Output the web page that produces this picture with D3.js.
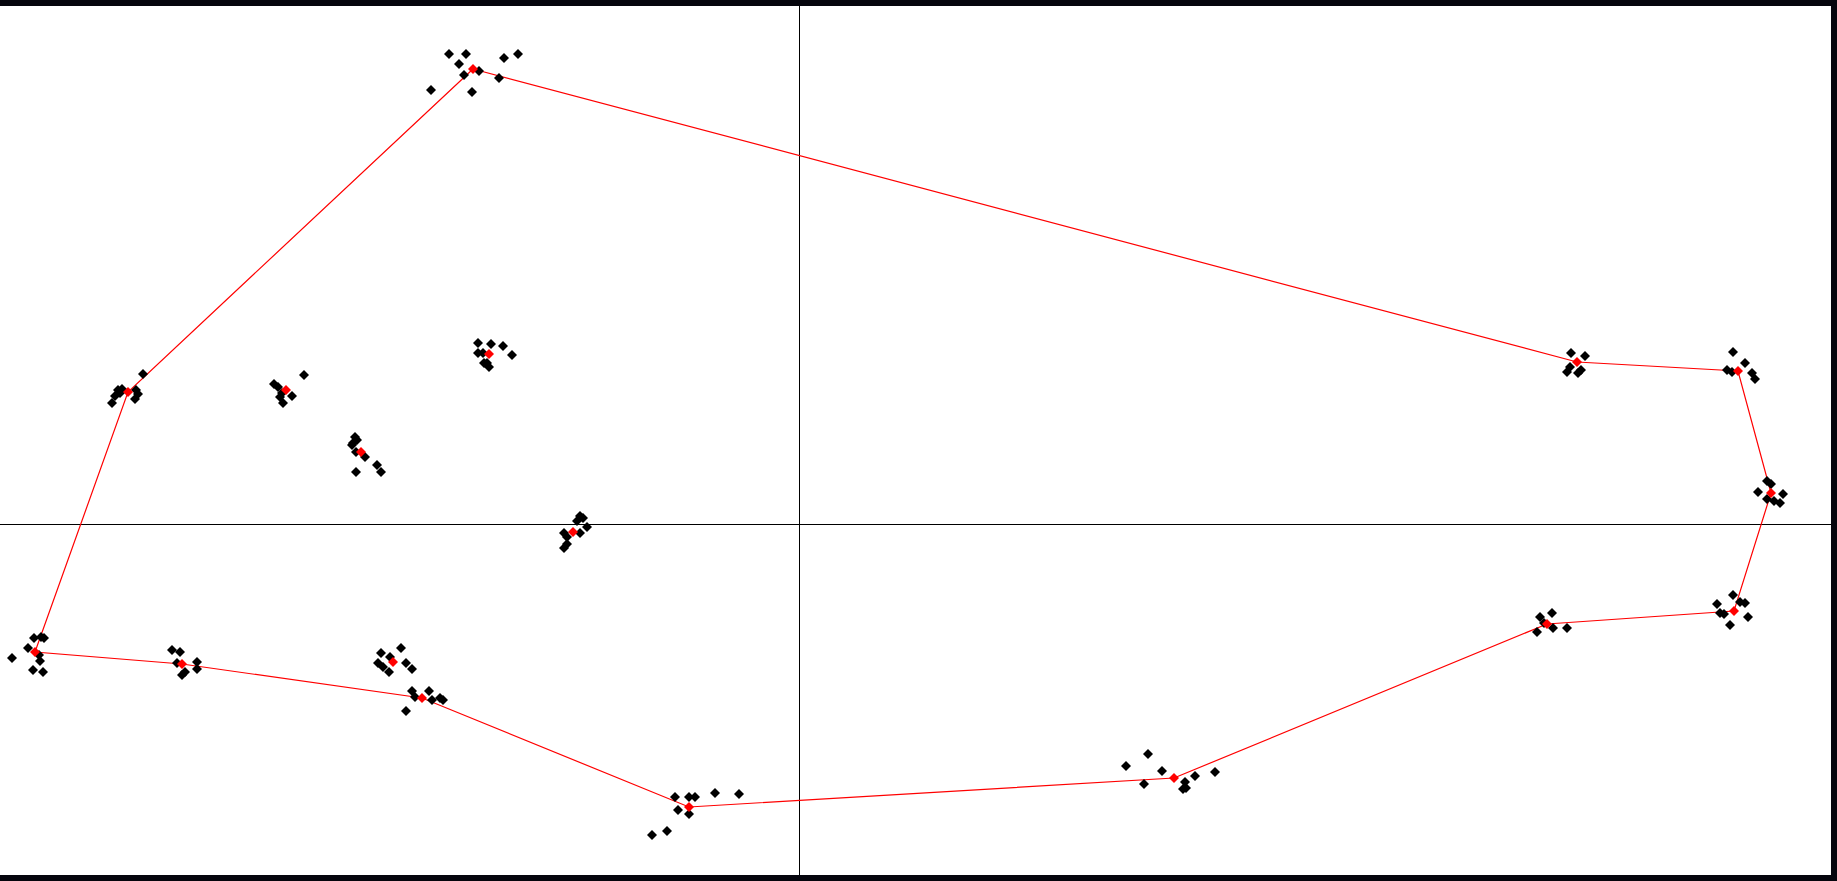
<!DOCTYPE html>
<html>
<head>
<meta charset="utf-8">
<style>
  html, body { margin: 0; padding: 0; background: #ffffff; }
  svg { display: block; }
</style>
<script src="https://cdn.jsdelivr.net/npm/d3@7"></script>
</head>
<body>
<script>
// ---- DATA (score units; axes cross at 0,0) ----
const clusterNames = ["A","B","C","D","E","F","G","H","I","J","K","L","M","N","O","P","Q"];

const centroidX = [-3.26,-6.71,-5.13,-3.10,-4.38,-2.26,-7.64,-6.17,-4.06,-3.77,-1.10, 3.75, 7.48, 9.35, 9.72, 7.78, 9.39];
const centroidY = [ 4.55, 1.32, 1.34, 1.70, 0.72,-0.08,-1.28,-1.40,-1.38,-1.74,-2.83,-2.54,-1.00,-0.87, 0.31, 1.62, 1.53];

const pointsA = [[-3.50,4.70],[-3.33,4.70],[-2.95,4.66],[-2.81,4.70],[-3.40,4.60],[-3.20,4.53],[-3.35,4.49],[-3.00,4.46],[-3.68,4.34],[-3.27,4.32]];
const pointsB = [[-6.81,1.34],[-6.77,1.35],[-6.84,1.28],[-6.87,1.21],[-6.63,1.34],[-6.61,1.30],[-6.64,1.25],[-6.56,1.50],[-6.79,1.31]];
const pointsC = [[-5.25,1.40],[-5.21,1.37],[-5.17,1.31],[-5.07,1.28],[-5.16,1.21],[-4.95,1.49],[-5.19,1.27]];
const pointsD = [[-3.21,1.81],[-3.08,1.80],[-2.96,1.78],[-2.87,1.69],[-3.21,1.71],[-3.16,1.71],[-3.15,1.61],[-3.10,1.57],[-3.12,1.61]];
const pointsE = [[-4.44,0.87],[-4.42,0.84],[-4.46,0.81],[-4.47,0.79],[-4.43,0.72],[-4.34,0.67],[-4.43,0.52],[-4.22,0.59],[-4.18,0.52]];
const pointsF = [[-2.19,0.08],[-2.16,0.06],[-2.22,0.03],[-2.12,-0.03],[-2.19,-0.09],[-2.35,-0.09],[-2.32,-0.13],[-2.35,-0.24],[-2.32,-0.20]];
const pointsG = [[-7.65,-1.14],[-7.58,-1.13],[-7.55,-1.14],[-7.71,-1.24],[-7.87,-1.34],[-7.60,-1.31],[-7.59,-1.37],[-7.66,-1.46],[-7.56,-1.48]];
const pointsH = [[-6.27,-1.26],[-6.19,-1.28],[-6.22,-1.39],[-6.02,-1.38],[-6.02,-1.45],[-6.14,-1.48],[-6.17,-1.51]];
const pointsI = [[-3.98,-1.24],[-4.18,-1.29],[-4.09,-1.33],[-4.21,-1.39],[-4.16,-1.43],[-4.10,-1.48],[-3.93,-1.39],[-3.87,-1.45]];
const pointsJ = [[-3.87,-1.67],[-3.70,-1.67],[-3.84,-1.73],[-3.67,-1.76],[-3.59,-1.74],[-3.56,-1.76],[-3.93,-1.87]];
const pointsK = [[-1.24,-2.73],[-1.10,-2.73],[-1.04,-2.73],[-0.84,-2.69],[-0.60,-2.70],[-1.21,-2.86],[-1.10,-2.90],[-1.32,-3.07],[-1.47,-3.11]];
const pointsL = [[3.49,-2.30],[3.27,-2.42],[3.63,-2.47],[3.45,-2.60],[3.86,-2.58],[3.87,-2.64],[3.96,-2.52],[4.16,-2.48],[3.84,-2.65]];
const pointsM = [[7.53,-0.89],[7.41,-0.93],[7.45,-0.99],[7.54,-1.04],[7.68,-1.04],[7.38,-1.08]];
const pointsN = [[9.34,-0.71],[9.41,-0.78],[9.46,-0.79],[9.18,-0.80],[9.21,-0.89],[9.25,-0.90],[9.49,-0.93],[9.31,-1.01]];
const pointsO = [[9.68,0.43],[9.72,0.40],[9.59,0.32],[9.84,0.30],[9.81,0.21],[9.68,0.25],[9.75,0.23]];
const pointsP = [[7.72,1.71],[7.86,1.68],[7.71,1.57],[7.68,1.52],[7.82,1.54],[7.79,1.51]];
const pointsQ = [[9.34,1.72],[9.46,1.61],[9.28,1.54],[9.33,1.52],[9.53,1.51],[9.56,1.45]];

// outline connecting centroids, by cluster name
const outlineOrder = ["A","P","Q","O","N","M","L","K","J","H","G","B","A"];

// ---- LAYOUT ----
const W = 1837, H = 881;
const frame = 6;

const x = d3.scaleLinear().domain([-7.99, 10.38]).range([0, W]);
const y = d3.scaleLinear().domain([5.24, -3.57]).range([0, H]);

const svg = d3.select("body").append("svg").attr("width", W).attr("height", H);
svg.append("rect").attr("width", W).attr("height", H).attr("fill", "#ffffff");

// axes through origin
svg.append("line")
  .attr("x1", Math.round(x(0)) + 0.5).attr("x2", Math.round(x(0)) + 0.5)
  .attr("y1", frame).attr("y2", H - frame)
  .attr("stroke", "#000").attr("stroke-width", 1);
svg.append("line")
  .attr("x1", 0).attr("x2", W - frame)
  .attr("y1", Math.round(y(0)) + 0.5).attr("y2", Math.round(y(0)) + 0.5)
  .attr("stroke", "#000").attr("stroke-width", 1);

// outline
const centroidByName = {};
clusterNames.forEach((n, i) => centroidByName[n] = [centroidX[i], centroidY[i]]);
const outline = outlineOrder.map(n => centroidByName[n]);
svg.append("path")
  .attr("d", d3.line().x(d => x(d[0])).y(d => y(d[1]))(outline))
  .attr("fill", "none").attr("stroke", "#ff0000").attr("stroke-width", 1.2);

// markers
const diamond = "M0,-5L5,0L0,5L-5,0Z";
const allPoints = [pointsA,pointsB,pointsC,pointsD,pointsE,pointsF,pointsG,pointsH,pointsI,
                   pointsJ,pointsK,pointsL,pointsM,pointsN,pointsO,pointsP,pointsQ].flat();
svg.append("g").selectAll("path").data(allPoints).join("path")
  .attr("d", diamond)
  .attr("transform", d => `translate(${x(d[0])},${y(d[1])})`)
  .attr("fill", "#000");

svg.append("g").selectAll("path").data(clusterNames.map((n, i) => [centroidX[i], centroidY[i]])).join("path")
  .attr("d", diamond)
  .attr("transform", d => `translate(${x(d[0])},${y(d[1])})`)
  .attr("fill", "#ff0000");

// frame (top, right, bottom)
const frameColor = "#05050d";
svg.append("rect").attr("x", 0).attr("y", 0).attr("width", W).attr("height", frame).attr("fill", frameColor);
svg.append("rect").attr("x", W - frame).attr("y", 0).attr("width", frame).attr("height", H).attr("fill", frameColor);
svg.append("rect").attr("x", 0).attr("y", H - frame).attr("width", W).attr("height", frame).attr("fill", frameColor);
</script>
</body>
</html>
